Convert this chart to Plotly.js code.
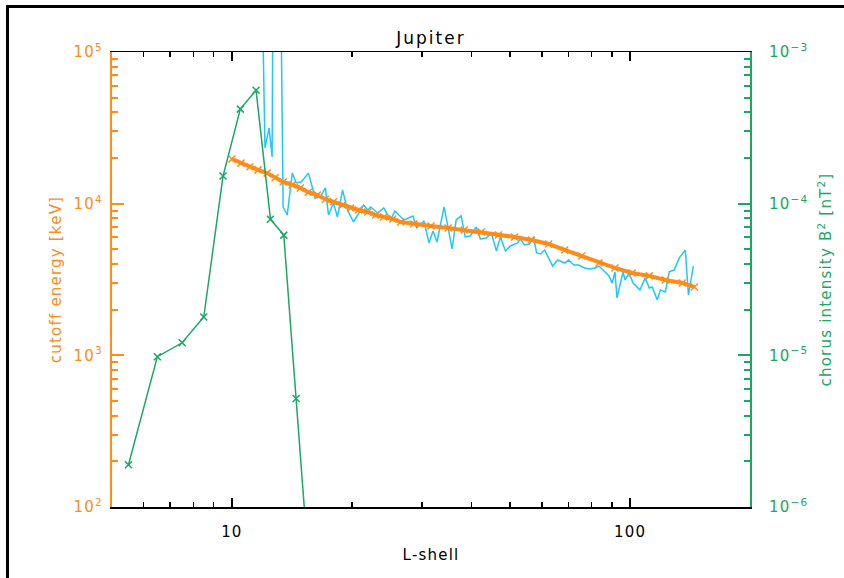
<!DOCTYPE html>
<html>
<head>
<meta charset="utf-8">
<script src="https://cdn.plot.ly/plotly-3.0.1.min.js"></script>
<style>
  html, body { margin: 0; padding: 0; background: #fff; }
  #chart { width: 844px; height: 578px; }
  #chart svg text { letter-spacing: 1.2px; }
  #chart svg .gtitle { letter-spacing: 2px; }
</style>
</head>
<body>
<div id="chart"></div>
<script>
// ---- Data ----
// Chorus intensity (right axis, nT^2) vs L-shell
const chorusL = [5.5, 6.5, 7.5, 8.5, 9.5, 10.5, 11.5, 12.5, 13.5, 14.5, 15.5];
const chorusB2 = [1.9e-6, 9.8e-6, 1.21e-5, 1.79e-5, 1.52e-4, 4.2e-4, 5.6e-4, 7.9e-5, 6.2e-5, 5.2e-6, 5e-7];

// Cutoff energy, smooth curve (left axis, keV)
const cutoffL = [10, 10.54, 11.1, 11.63, 12.26, 12.84, 13.45, 14.18, 14.85, 15.56, 16.39, 17.17, 17.99,
  18.96, 19.86, 20.8, 21.93, 22.96, 24.06, 25.35, 26.56, 28.64, 31.62, 34.91, 38.32, 42.29, 46.69,
  51.24, 56.56, 62.44, 68.5, 75.6, 83.5, 91.6, 101.2, 111.7, 122.6, 135.3, 145];
const cutoffE = [1.97e4, 1.85e4, 1.75e4, 1.67e4, 1.59e4, 1.48e4, 1.39e4, 1.33e4, 1.27e4, 1.19e4, 1.14e4,
  1.07e4, 1.03e4, 9.8e3, 9.37e3, 9.09e3, 8.82e3, 8.42e3, 8.17e3, 7.93e3, 7.57e3, 7.35e3, 7.13e3, 6.92e3,
  6.71e3, 6.51e3, 6.22e3, 6.03e3, 5.76e3, 5.42e3, 4.95e3, 4.52e3, 4.06e3, 3.77e3, 3.49e3, 3.34e3,
  3.14e3, 3.0e3, 2.82e3];

// Cutoff energy, noisy estimate (left axis, keV)
const noisyL = [11.9, 12.11, 12.4, 12.62, 12.76, 13.07, 13.45, 13.77, 14.18, 14.51, 14.94, 15.56, 16.2,
  16.68, 17.17, 17.48, 17.99, 18.41, 18.96, 19.51, 20.2, 21.05, 21.42, 21.93, 22.31, 23.23, 24.06,
  25.06, 25.65, 26.26, 27.03, 28.48, 29.15, 30.36, 31.26, 31.99, 32.74, 34.11, 35.73, 36.57, 37.65,
  38.54, 39.67, 41.08, 42.05, 43.54, 44.83, 46.15, 47.24, 48.63, 50.06, 52.14, 53.06, 54.31, 55.91,
  57.22, 58.23, 59.6, 61.0, 63.9, 65.79, 68.5, 70.1, 72.2, 74.3, 76.95, 79.2, 81.6, 83.5, 86.0, 88.5,
  90.1, 91.6, 92.7, 96.0, 97.1, 99.4, 101.7, 102.9, 105.9, 109.1, 111.7, 113.6, 117.0, 119.1, 122.6,
  125.4, 129.1, 132.9, 137.6, 140.1, 144.2];
const noisyE = [3e5, 2.33e4, 3.16e4, 2.03e4, 1e7, 1e7, 9.51e3, 8.42e3, 1.59e4, 1.37e4, 1.39e4, 1.59e4,
  1.09e4, 1.11e4, 1.27e4, 8.42e3, 1.01e4, 8.17e3, 1.23e4, 9.09e3, 7.57e3, 9.09e3, 9.8e3, 9.09e3,
  9.51e3, 8.68e3, 9.37e3, 7.81e3, 8.95e3, 8.42e3, 7.81e3, 8.3e3, 6.92e3, 7.69e3, 5.51e3, 6.61e3,
  5.59e3, 9.51e3, 5.03e3, 7.81e3, 8.3e3, 6.03e3, 6.12e3, 7.02e3, 5.85e3, 5.94e3, 6.41e3, 4.88e3,
  6.03e3, 4.88e3, 5.26e3, 5.51e3, 5.85e3, 5.34e3, 5.43e3, 6.03e3, 4.73e3, 4.66e3, 4.95e3, 3.88e3,
  4.25e3, 4.06e3, 4.25e3, 3.94e3, 3.94e3, 3.77e3, 3.71e3, 3.77e3, 3.88e3, 3.6e3, 3.34e3, 3.0e3,
  3.55e3, 2.39e3, 3.55e3, 3.14e3, 3.49e3, 3.0e3, 2.91e3, 2.7e3, 3.24e3, 2.78e3, 2.82e3, 2.32e3,
  2.7e3, 2.62e3, 3.55e3, 3.66e3, 4.39e3, 4.95e3, 2.5e3, 3.88e3];

// Tick definitions
const xMajor = [10, 100];
const xMajorText = ['10', '100'];
const xMinor = [6, 7, 8, 9, 20, 30, 40, 50, 60, 70, 80, 90];
const yLeftMajor = [1e2, 1e3, 1e4, 1e5];
const yLeftText = ['10<sup>2</sup>', '10<sup>3</sup>', '10<sup>4</sup>', '10<sup>5</sup>'];
const yLeftMinor = [200, 300, 400, 500, 600, 700, 800, 900, 2000, 3000, 4000, 5000, 6000, 7000, 8000, 9000,
  20000, 30000, 40000, 50000, 60000, 70000, 80000, 90000];
const yRightMajor = [1e-6, 1e-5, 1e-4, 1e-3];
const yRightText = ['10<sup>\u22126</sup>', '10<sup>\u22125</sup>', '10<sup>\u22124</sup>', '10<sup>\u22123</sup>'];
const yRightMinor = [2e-6, 3e-6, 4e-6, 5e-6, 6e-6, 7e-6, 8e-6, 9e-6, 2e-5, 3e-5, 4e-5, 5e-5, 6e-5, 7e-5,
  8e-5, 9e-5, 2e-4, 3e-4, 4e-4, 5e-4, 6e-4, 7e-4, 8e-4, 9e-4];

const ORANGE = '#ff8c1a';
const CYAN = '#1ec8ff';
const GREEN = '#1aa862';
const FONT = 'DejaVu Sans, Liberation Sans, sans-serif';

const traces = [
  {
    x: noisyL, y: noisyE, type: 'scatter', mode: 'lines',
    line: { color: CYAN, width: 1.5 }, xaxis: 'x', yaxis: 'y', showlegend: false
  },
  {
    x: cutoffL, y: cutoffE, type: 'scatter', mode: 'lines+markers',
    line: { color: ORANGE, width: 4 },
    marker: { symbol: 'x-thin', size: 7, line: { color: ORANGE, width: 1.5 } },
    xaxis: 'x', yaxis: 'y', showlegend: false
  },
  {
    x: chorusL, y: chorusB2, type: 'scatter', mode: 'lines+markers',
    line: { color: GREEN, width: 1.5 },
    marker: { symbol: 'x-thin', size: 7, line: { color: GREEN, width: 1.5 } },
    xaxis: 'x', yaxis: 'y2', showlegend: false
  }
];

const L = 112, R = 750, T = 52, B = 507, W = 844, H = 578;
const px = v => (v - L) / (R - L);
const py = v => (B - v) / (B - T);

const layout = {
  width: W, height: H,
  margin: { l: L, r: W - R, t: T, b: H - B, pad: 0 },
  paper_bgcolor: '#fff', plot_bgcolor: '#fff',
  font: { family: FONT, color: '#000', size: 15 },
  showlegend: false,
  title: {
    text: 'Jupiter', font: { family: FONT, size: 17, color: '#000' },
    x: 0.5, xref: 'paper', xanchor: 'center', y: 1 - 38 / H, yref: 'container', yanchor: 'middle'
  },
  xaxis: {
    type: 'log', range: [Math.log10(5), Math.log10(200)],
    showgrid: false, zeroline: false,
    showline: true, linecolor: '#000', linewidth: 1.5, mirror: 'ticks',
    tickmode: 'array', tickvals: xMajor, ticktext: xMajorText,
    ticks: 'inside', ticklen: 9, tickwidth: 1.5, tickcolor: '#000',
    minor: { tickmode: 'array', tickvals: xMinor, ticks: 'inside', ticklen: 5, tickwidth: 1.5, tickcolor: '#000', showgrid: false },
    tickfont: { family: FONT, size: 15, color: '#000' },
    ticklabelstandoff: 10,
    title: { text: 'L-shell', font: { family: FONT, size: 15, color: '#000' }, standoff: 10 }
  },
  yaxis: {
    type: 'log', range: [2, 5],
    showgrid: false, zeroline: false,
    showline: true, linecolor: ORANGE, linewidth: 2,
    tickmode: 'array', tickvals: yLeftMajor, ticktext: yLeftText,
    ticks: 'inside', ticklen: 12, tickwidth: 2, tickcolor: ORANGE,
    minor: { tickmode: 'array', tickvals: yLeftMinor, ticks: 'inside', ticklen: 6, tickwidth: 2, tickcolor: ORANGE, showgrid: false },
    tickfont: { family: FONT, size: 15, color: ORANGE },
    ticklabelstandoff: 4,
    title: { text: 'cutoff energy [keV]', font: { family: FONT, size: 15, color: ORANGE }, standoff: 12 }
  },
  yaxis2: {
    type: 'log', range: [-6, -3], overlaying: 'y', side: 'right',
    showgrid: false, zeroline: false,
    showline: true, linecolor: GREEN, linewidth: 2,
    tickmode: 'array', tickvals: yRightMajor, ticktext: yRightText,
    ticks: 'inside', ticklen: 12, tickwidth: 2, tickcolor: GREEN,
    minor: { tickmode: 'array', tickvals: yRightMinor, ticks: 'inside', ticklen: 6, tickwidth: 2, tickcolor: GREEN, showgrid: false },
    tickfont: { family: FONT, size: 15, color: GREEN },
    ticklabelstandoff: 14,
    title: { text: 'chorus intensity B<sup>2</sup> [nT<sup>2</sup>]', font: { family: FONT, size: 15, color: GREEN }, standoff: 18 }
  },
  shapes: [
    { type: 'line', xref: 'paper', yref: 'paper', x0: px(7.5), x1: px(7.5), y0: py(5), y1: py(580), line: { color: '#000', width: 3 } },
    { type: 'line', xref: 'paper', yref: 'paper', x0: px(6), x1: px(846), y0: py(6.5), y1: py(6.5), line: { color: '#000', width: 3 } }
  ]
};

Plotly.newPlot('chart', traces, layout, { displayModeBar: false, staticPlot: true });
</script>
</body>
</html>
